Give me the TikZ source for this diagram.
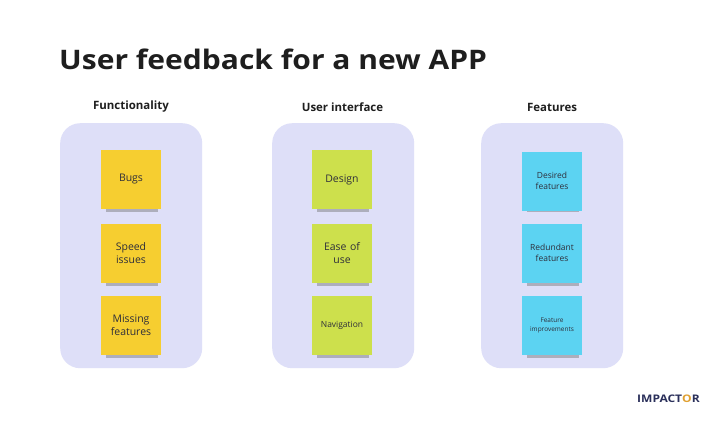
\documentclass[tikz,border=0pt]{standalone}
\usepackage{fontspec}
\setmainfont{Open Sans}
\usetikzlibrary{positioning}
\definecolor{panelc}{HTML}{DEDFF8}
\definecolor{yel}{HTML}{F6CE30}
\definecolor{lime}{HTML}{CDE04C}
\definecolor{sky}{HTML}{5CD3F2}
\definecolor{ink}{HTML}{1E1E1E}
\definecolor{stxt}{HTML}{2E2E3A}
\definecolor{navy}{HTML}{2A2F5A}
\definecolor{logoo}{HTML}{E0A030}
\tikzset{
  x=1bp, y=-1bp,
  panel/.style={fill=panelc, draw=none, rounded corners=20bp, minimum width=142bp, minimum height=245bp, inner sep=0pt},
  sticky/.style={draw=none, minimum width=60bp, minimum height=59bp, inner sep=1bp, align=center, text=stxt, font=\fontsize{10.5}{13}\selectfont, text width=58bp},
  shadowbox/.style={fill=black!55, opacity=0.45, minimum width=52bp, minimum height=5bp, inner sep=0pt, draw=none},
  header/.style={font=\bfseries\fontsize{11.5}{13}\selectfont, text=ink},
}
\begin{document}
\begin{tikzpicture}
\useasboundingbox[fill=white] (0,0) rectangle (720,422);
\node[anchor=base west, font=\bfseries\fontsize{27}{30}\selectfont, text=ink, inner sep=0pt] (title) at (59,69) {\scalebox{1.115}[1]{User feedback for a new APP}};

% panels
\node[panel, anchor=north west] (p1) at (60,123) {};
\node[panel, anchor=north west] (p2) at (272,123) {};
\node[panel, anchor=north west] (p3) at (481,123) {};

\node[header] (h1) at (131,107) {Functionality};
\node[header] (h2) at (342.5,107) {User interface};
\node[header] (h3) at (552,107) {Features};

% shadows
\foreach \cx in {131,342,552}{
  \foreach \by in {209,283,355}{
    \node[shadowbox] at (\cx+1,\by) {};
  }
}

% column 1
\node[sticky, fill=yel] (bugs) at (131,179.5) {Bugs};
\node[sticky, fill=yel] (speed) at (131,253) {Speed\\issues};
\node[sticky, fill=yel] (missing) at (131,325) {Missing\\features};

% column 2
\node[sticky, fill=lime] (design) at (342,179.5) {Design};
\node[sticky, fill=lime] (ease) at (342,253) {Ease of\\use};
\node[sticky, fill=lime, font=\fontsize{8.5}{10}\selectfont] (nav) at (342,325) {Navigation};

% column 3
\node[sticky, fill=sky, font=\fontsize{8.5}{11.5}\selectfont] (desired) at (552,181) {Desired\\features};
\node[sticky, fill=sky, font=\fontsize{8.5}{11.5}\selectfont] (redund) at (552,253) {Redundant\\features};
\node[sticky, fill=sky, font=\fontsize{6.5}{9}\selectfont] (improv) at (552,325) {Feature\\improvements};

% logo
\node[anchor=west, inner sep=0pt, font=\bfseries\fontsize{10.5}{12}\selectfont, text=navy] (logo) at (637,399) {\scalebox{1.15}[1]{IMPACT{\color{logoo}O}R}};
\end{tikzpicture}
\end{document}
